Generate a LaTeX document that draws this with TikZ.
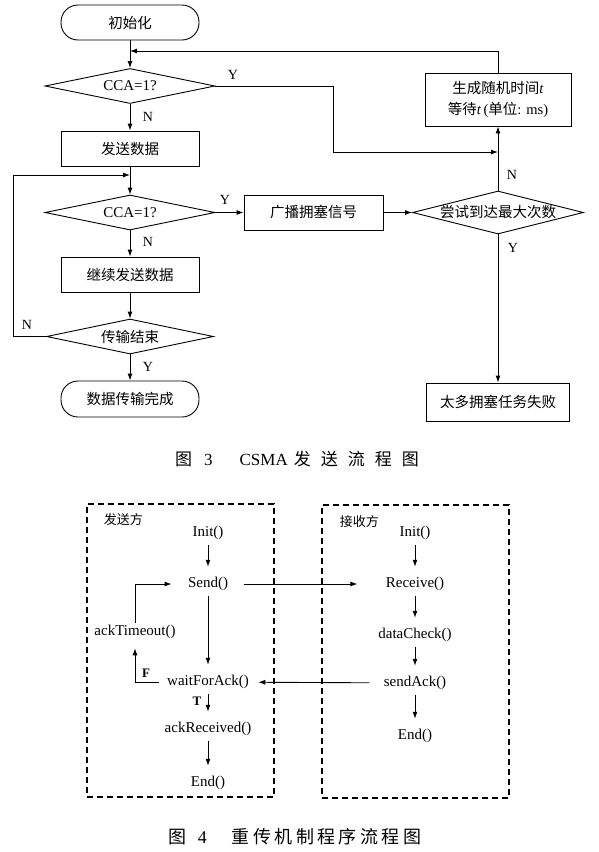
\documentclass[tikz,border=0pt]{standalone}
\usepackage{fontspec}
\setmainfont{Liberation Serif}
\newfontfamily\cjk{Noto Sans CJK SC}
\usetikzlibrary{shapes.geometric,arrows.meta}
\newcommand{\capsep}{\hspace{10pt}}
\newcommand{\capsepb}{\hspace{3.4pt}}
\begin{document}
\begin{tikzpicture}[x=1pt,y=-1pt,line width=0.9pt,>={Latex[length=7pt,width=5pt]},
  term/.style={draw,rounded corners=17pt,minimum width=138pt,minimum height=35pt,font=\fontsize{14.5}{16}\selectfont\cjk},
  proc/.style={draw,minimum width=138pt,minimum height=35pt,font=\fontsize{14.5}{16}\selectfont\cjk},
  decide/.style={draw,diamond,aspect=4,inner sep=0pt,minimum width=170pt,minimum height=35pt,font=\fontsize{15}{17}\selectfont},
  yn/.style={inner sep=0pt,font=\fontsize{14}{16}\selectfont},
  func/.style={inner sep=2pt,font=\fontsize{15}{17}\selectfont},
  flow/.style={->,shorten <=3pt,shorten >=8pt},
  side/.style={draw,dash pattern=on 6pt off 4pt,line width=1.1pt,minimum width=187pt,minimum height=293pt}]
\useasboundingbox (0,0) rectangle (598,852);
\node[term] (init) at (130,22.5) {初始化};
\node[decide] (cca1) at (130,86) {CCA=1?};
\node[proc] (send) at (130,148.5) {发送数据};
\node[decide] (cca2) at (130,212.5) {CCA=1?};
\node[proc] (cont) at (130,274.5) {继续发送数据};
\node[decide,minimum width=167pt] (endq) at (130,336.5) {\cjk\fontsize{14.5}{16}\selectfont 传输结束};
\node[term,minimum height=36pt] (done) at (130,399) {数据传输完成};
\node[proc,minimum width=139pt] (jam) at (313.5,212.5) {广播拥塞信号};
\node[decide,inner sep=-3pt,minimum width=171pt,minimum height=43pt] (maxq) at (498,212.5) {\cjk\fontsize{14.5}{16}\selectfont 尝试到达最大次数};
\node[proc,minimum width=146pt,minimum height=53pt,align=center,font=\fontsize{14.5}{21}\selectfont] (wait) at (498,99.5) {{\cjk 生成随机时间}\textit{t}\\{\cjk 等待}\textit{t}\,({\cjk 单位}: ms)};
\node[proc,minimum width=143pt,minimum height=38pt] (fail) at (498,402) {太多拥塞任务失败};
\draw[->] (init) -- (cca1);
\draw[->] (cca1) -- (send);
\draw[->] (send) -- (cca2);
\draw[->] (cca2) -- (cont);
\draw[->] (cont) -- (endq);
\draw[->] (endq) -- (done);
\draw[->] (cca2) -- (jam);
\draw[->] (jam) -- (maxq);
\draw[->] (maxq) -- (wait);
\draw[->] (maxq) -- (fail);
\coordinate (ybend) at (333,152);
\draw[->] (cca1.east) -| (ybend) -- (ybend -| maxq.north);
\coordinate (ret) at (130,51);
\draw[->] (wait.north) |- (ret);
\coordinate (loop) at (13,175);
\draw[->] (endq.west) -| (loop) -- (loop -| send.south);
\node[yn] (ly1) at (233,75) {Y};
\node[yn] (ln1) at (148,117) {N};
\node[yn] (ly2) at (225,200) {Y};
\node[yn] (ln2) at (148,242) {N};
\node[yn] (ln3) at (27,325) {N};
\node[yn] (ly3) at (148,367) {Y};
\node[yn] (ln4) at (512,175) {N};
\node[yn] (ly4) at (513,248) {Y};
\node[font=\fontsize{17}{20}\selectfont] (cap3) at (297,459) {{\cjk 图}\hspace{12pt}3\hspace{27pt}CSMA\hspace{6pt}{\cjk 发\capsep 送\capsep 流\capsep 程\capsep 图}};
\node[side] (sender) at (180.5,650.5) {};
\node[side] (receiver) at (415.5,651.5) {};
\node[anchor=west,font=\fontsize{13}{15}\selectfont\cjk] (sname) at (100,520) {发送方};
\node[anchor=west,font=\fontsize{13}{15}\selectfont\cjk] (rname) at (336,522) {接收方};
\node[func] (linit) at (208,533) {Init()};
\node[func] (lsend) at (208,584) {Send()};
\node[func] (ltimeout) at (135,632) {ackTimeout()};
\node[func] (lwait) at (208,682) {waitForAck()};
\node[func] (lrecv) at (208,729) {ackReceived()};
\node[func] (lend) at (208,783) {End()};
\node[func] (rinit) at (415,533) {Init()};
\node[func] (rrecv) at (415,584) {Receive()};
\node[func] (rcheck) at (415,635) {dataCheck()};
\node[func] (rack) at (415,683) {sendAck()};
\node[func] (rend) at (415,736) {End()};
\draw[flow] (linit) -- (lsend);
\draw[flow] (lsend) -- (lwait);
\draw[flow] (lwait) -- (lrecv);
\draw[flow] (lrecv) -- (lend);
\draw[flow] (rinit) -- (rrecv);
\draw[flow] (rrecv) -- (rcheck);
\draw[flow] (rcheck) -- (rack);
\draw[flow] (rack) -- (rend);
\draw[->,shorten <=14pt,shorten >=26pt] (lsend) -- (rrecv);
\draw[->,shorten <=12pt,shorten >=7pt] (rack) -- (lwait);
\draw[->,shorten <=6pt,shorten >=7pt] (lwait.west) -| (ltimeout.south);
\draw[->,shorten >=14pt] (ltimeout.north) |- (lsend.west);
\node[yn,font=\fontsize{13}{15}\selectfont\bfseries] (lf) at (146,673) {F};
\node[yn,font=\fontsize{13}{15}\selectfont\bfseries] (lt) at (197,701) {T};
\node[font=\fontsize{18}{20}\selectfont] (cap4) at (295,837) {{\cjk 图}\hspace{11pt}4\hspace{25pt}{\cjk 重\capsepb 传\capsepb 机\capsepb 制\capsepb 程\capsepb 序\capsepb 流\capsepb 程\capsepb 图}};
\end{tikzpicture}
\end{document}
